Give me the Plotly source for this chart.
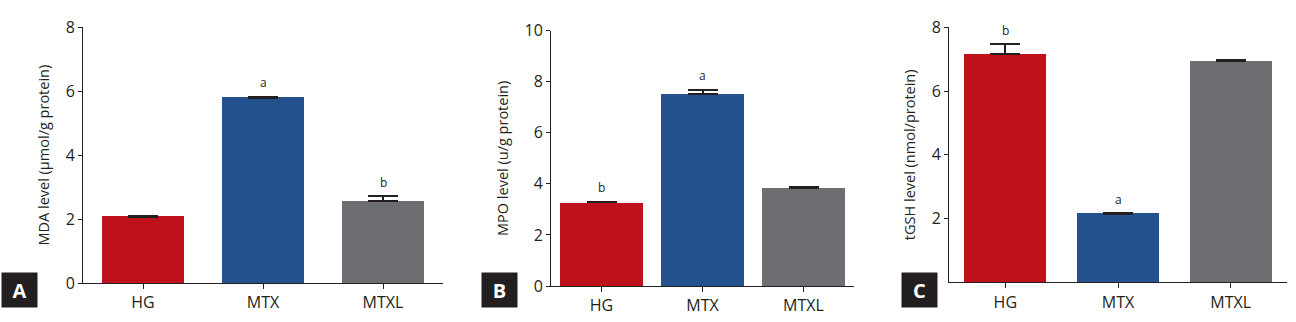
import plotly.graph_objects as go

W, H = 1296, 322

groups = ["HG", "MTX", "MTXL"]
colors = ["#BE111B", "#24528E", "#6D6E71"]

mda = [2.08, 5.80, 2.57]
mda_err = [0.02, 0.02, 0.14]
mda_sig = ["", "a", "b"]

mpo = [3.28, 7.52, 3.84]
mpo_err = [0.02, 0.17, 0.02]
mpo_sig = ["b", "a", ""]

tgsh = [7.16, 2.15, 6.94]
tgsh_err = [0.31, 0.01, 0.02]
tgsh_sig = ["b", "a", ""]

FONT = "Open Sans"
DARK = "#231F20"

panels = [
    dict(vals=mda, err=mda_err, sig=mda_sig, title="MDA level (µmol/g protein)",
         xdom=(83, 443), ybot=283, ytop=27.3, yr=[0, 8], ticks=[0, 2, 4, 6, 8], bw=0.69,
         label="A", lab_x=(2, 37)),
    dict(vals=mpo, err=mpo_err, sig=mpo_sig, title="MPO level (u/g protein)",
         xdom=(551, 854), ybot=286, ytop=30.7, yr=[0, 10], ticks=[0, 2, 4, 6, 8, 10], bw=0.82,
         label="B", lab_x=(482, 517)),
    dict(vals=tgsh, err=tgsh_err, sig=tgsh_sig, title="tGSH level (nmol/protein)",
         xdom=(949, 1287), ybot=282.3, ytop=27.3, yr=[0, 8], ticks=[2, 4, 6, 8], bw=0.73,
         label="C", lab_x=(902, 937)),
]

fig = go.Figure()
layout = dict(width=W, height=H, margin=dict(l=0, r=0, t=0, b=0, autoexpand=False),
              template="none",
              paper_bgcolor="white", plot_bgcolor="white", showlegend=False,
              font=dict(family=FONT, color=DARK), annotations=[], bargap=0)

for i, p in enumerate(panels):
    n = "" if i == 0 else str(i + 1)
    xa, ya = "x" + n, "y" + n
    fig.add_trace(go.Bar(
        x=groups, y=p["vals"], xaxis=xa, yaxis=ya, width=p["bw"],
        marker=dict(color=colors, line=dict(width=0)),
        error_y=dict(type="data", symmetric=False, array=p["err"],
                     arrayminus=[0] * 3, color=DARK, thickness=2, width=15),
        hoverinfo="skip"))
    layout["xaxis" + n] = dict(
        domain=[p["xdom"][0] / W, p["xdom"][1] / W], anchor=ya, automargin=False,
        range=[-0.5, 2.5], showline=True, linecolor=DARK, linewidth=1,
        ticks="outside", ticklen=5, tickcolor=DARK, showgrid=False,
        tickfont=dict(size=16, family=FONT, color=DARK), zeroline=False)
    layout["yaxis" + n] = dict(
        domain=[(H - p["ybot"]) / H, (H - p["ytop"]) / H], anchor=xa, automargin=False,
        range=p["yr"], tickvals=p["ticks"], showline=True, linecolor=DARK,
        linewidth=1, ticks="outside", ticklen=4, tickcolor=DARK, showgrid=False,
        zeroline=False, tickfont=dict(size=16, family=FONT, color=DARK),
        title=dict(text=p["title"], font=dict(size=14.5, family=FONT, color=DARK),
                   standoff=12))
    for g, v, e, s in zip(groups, p["vals"], p["err"], p["sig"]):
        if s:
            layout["annotations"].append(dict(
                x=g, y=v + e, xref=xa, yref=ya, text=s, showarrow=False,
                yshift=14, font=dict(size=12, family=FONT, color=DARK)))
    lx0, lx1 = p["lab_x"]
    layout["annotations"].append(dict(
        x=(lx0 + lx1) / 2 / W, y=(H - 290) / H, xref="paper", yref="paper",
        text="<b>" + p["label"] + "</b>", showarrow=False, bgcolor=DARK,
        width=lx1 - lx0 - 2, height=32, borderpad=1,
        font=dict(size=20, family=FONT, color="white"),
        xanchor="center", yanchor="middle"))

fig.update_layout(**layout)
fig.write_html("out.html")
